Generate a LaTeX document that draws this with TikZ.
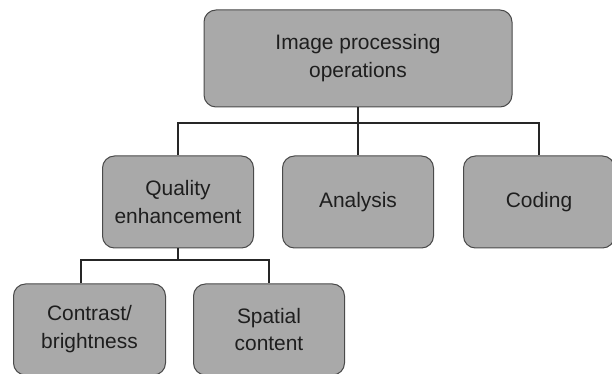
\documentclass[tikz,border=0pt]{standalone}
\usepackage{fontspec}
\setmainfont{Liberation Sans}
\usetikzlibrary{positioning,calc}
\definecolor{boxfill}{HTML}{A9A9A9}
\definecolor{boxline}{HTML}{4A4A4A}
\definecolor{inkgray}{HTML}{1E1E1E}
\tikzset{
  opbox/.style={draw=boxline, line width=1bp, fill=boxfill, rounded corners=12bp,
    align=center, text=inkgray, font=\fontsize{21}{28}\selectfont,
    minimum width=151bp, minimum height=92bp, inner sep=0pt},
  link/.style={draw=black!85, line width=2bp}
}
\begin{document}
\begin{tikzpicture}
  \useasboundingbox (0,0) rectangle (612bp,374bp);
  \node[opbox, minimum width=308bp, minimum height=97bp] (ops) at (358bp,315.5bp) {Image processing\\operations};
  \node[opbox] (ana) [below=48bp of ops] {Analysis};
  \node[opbox] (qual) [left=28bp of ana] {Quality\\enhancement};
  \node[opbox] (cod) [right=29bp of ana] {Coding};
  \node[opbox, minimum width=152bp, minimum height=91bp] (con) [below=35bp of qual, xshift=-88.5bp] {Contrast/\\brightness};
  \node[opbox, minimum height=91bp] (spa) [right=27bp of con] {Spatial\\content};
  % tree connectors
  \coordinate (bus1) at ($(ops.south)+(0,-16bp)$);
  \coordinate (bus2) at ($(qual.south)+(0,-12bp)$);
  \draw[link] (ops.south) -- (ana.north);
  \draw[link] (qual.north) |- (bus1) -| (cod.north);
  \draw[link] (qual.south) -- (bus2);
  \draw[link] ([xshift=-9bp]con.north) |- (bus2) -| (spa.north);
\end{tikzpicture}
\end{document}
